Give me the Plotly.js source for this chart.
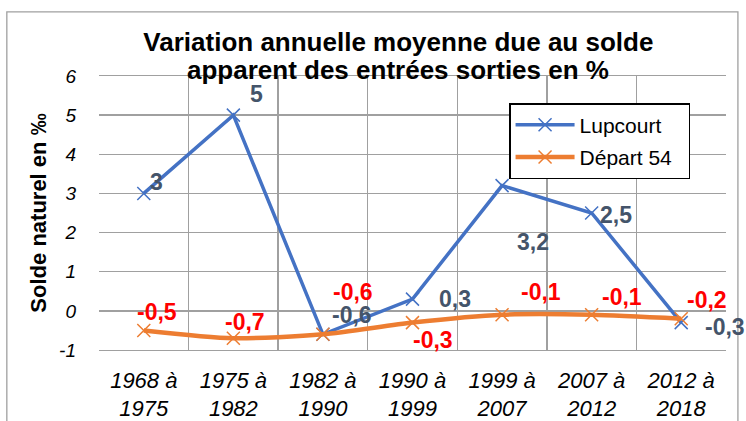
<!DOCTYPE html>
<html>
<head>
<meta charset="utf-8">
<script src="https://cdn.plot.ly/plotly-3.0.1.min.js"></script>
<style>
html,body{margin:0;padding:0;background:#fff;}
#chart{width:746px;height:421px;}
</style>
</head>
<body>
<div id="chart"></div>
<script>
var categories = ["1968 à<br>1975", "1975 à<br>1982", "1982 à<br>1990", "1990 à<br>1999", "1999 à<br>2007", "2007 à<br>2012", "2012 à<br>2018"];
var lupcourt = [3, 5, -0.6, 0.3, 3.2, 2.5, -0.3];
var depart54 = [-0.5, -0.7, -0.6, -0.3, -0.1, -0.1, -0.2];
var yTicks = [-1, 0, 1, 2, 3, 4, 5, 6];
var yTickText = ["-1", "0", "1", "2", "3", "4", "5", "6"];
var titleLines = ["Variation annuelle moyenne due au solde", "apparent des entrées sorties en %"];

// label offsets in pixels [dx, dy(up)]
var lupOffsets = [[13, 11], [23, 21], [29, 19], [42, 0], [31, -56], [24, -2], [44, -4]];
var depOffsets = [[13, 18], [12, 16], [30, 42], [20, -17], [39, 23], [30, 18], [26, 19]];

function fmt(v) { return String(v).replace('.', ','); }

var annotations = [];
function addLabels(vals, offs, color) {
  vals.forEach(function (v, i) {
    annotations.push({
      x: i, y: v, xref: 'x', yref: 'y',
      text: fmt(v), showarrow: false,
      xanchor: 'center', yanchor: 'middle',
      xshift: offs[i][0], yshift: offs[i][1],
      font: {family: 'Liberation Sans, Arial, sans-serif', size: 23, color: color, weight: 'bold'}
    });
  });
}
addLabels(lupcourt, lupOffsets, '#44546A');
addLabels(depart54, depOffsets, '#FF0000');

// second title line
annotations.push({
  x: 0.477, y: 1.022, xref: 'paper', yref: 'paper', xanchor: 'center', yanchor: 'middle',
  text: titleLines[1], showarrow: false,
  font: {family: 'Liberation Sans, Arial, sans-serif', size: 26, color: '#000', weight: 'bold'}
});

var traces = [
  {
    x: categories, y: lupcourt, name: 'Lupcourt', type: 'scatter', mode: 'lines+markers',
    line: {color: '#4472C4', width: 3.5},
    marker: {symbol: 'x-thin-open', size: 13, color: '#4472C4', line: {color: '#4472C4', width: 1.5}},
    legendgroup: 'a'
  },
  {
    x: categories, y: depart54, name: 'Départ 54\u00a0\u00a0', type: 'scatter', mode: 'lines+markers',
    line: {color: '#ED7D31', width: 4.5, shape: 'spline', smoothing: 0.7},
    marker: {symbol: 'x-thin-open', size: 13, color: '#ED7D31', line: {color: '#ED7D31', width: 1.5}},
    legendgroup: 'b'
  }
];

var layout = {
  width: 746, height: 421,
  margin: {l: 99, r: 20, t: 76, b: 71},
  paper_bgcolor: '#fff', plot_bgcolor: '#fff',
  font: {family: 'Liberation Sans, Arial, sans-serif', color: '#000'},
  title: {
    text: titleLines[0],
    font: {size: 26, weight: 'bold', color: '#000'},
    x: 0.534, xanchor: 'center', y: 0.9, yanchor: 'middle'
  },
  xaxis: {
    type: 'category', range: [-0.5, 6.5], autorange: false,
    tickson: 'boundaries', showgrid: true,
    gridcolor: '#A0A0A0', gridwidth: 1.3,
    showline: true, mirror: true, linecolor: '#A0A0A0', linewidth: 1.3,
    ticks: '', tickfont: {size: 22, style: 'italic', color: '#000'},
    ticklabelstandoff: 10, automargin: false,
    fixedrange: true
  },
  yaxis: {
    range: [-1, 6], autorange: false, tickvals: yTicks, ticktext: yTickText, showgrid: true,
    gridcolor: '#A0A0A0', gridwidth: 1.3, zeroline: false,
    showline: false, ticks: '',
    tickfont: {size: 19, style: 'italic', color: '#000'},
    ticklabelstandoff: 22, automargin: false,
    title: {text: 'Solde naturel en ‰', font: {size: 22, weight: 'bold', color: '#000'}, standoff: 6},
    fixedrange: true
  },
  legend: {
    x: 0.654, y: 0.901, xanchor: 'left', yanchor: 'top',
    bgcolor: '#fff', bordercolor: '#000', borderwidth: 1.5,
    font: {size: 21, color: '#000'}, itemwidth: 59,
    traceorder: 'grouped', tracegroupgap: 2
  },
  annotations: annotations,
  shapes: [
    {type: 'rect', xref: 'paper', yref: 'paper', x0: -0.147, x1: 1.019, y0: -0.4, y1: 1.234,
     line: {color: '#A0A0A0', width: 1.3}, fillcolor: 'rgba(0,0,0,0)', layer: 'below'}
  ],
  showlegend: true
};

Plotly.newPlot('chart', traces, layout, {displayModeBar: false, staticPlot: true});
</script>
</body>
</html>
